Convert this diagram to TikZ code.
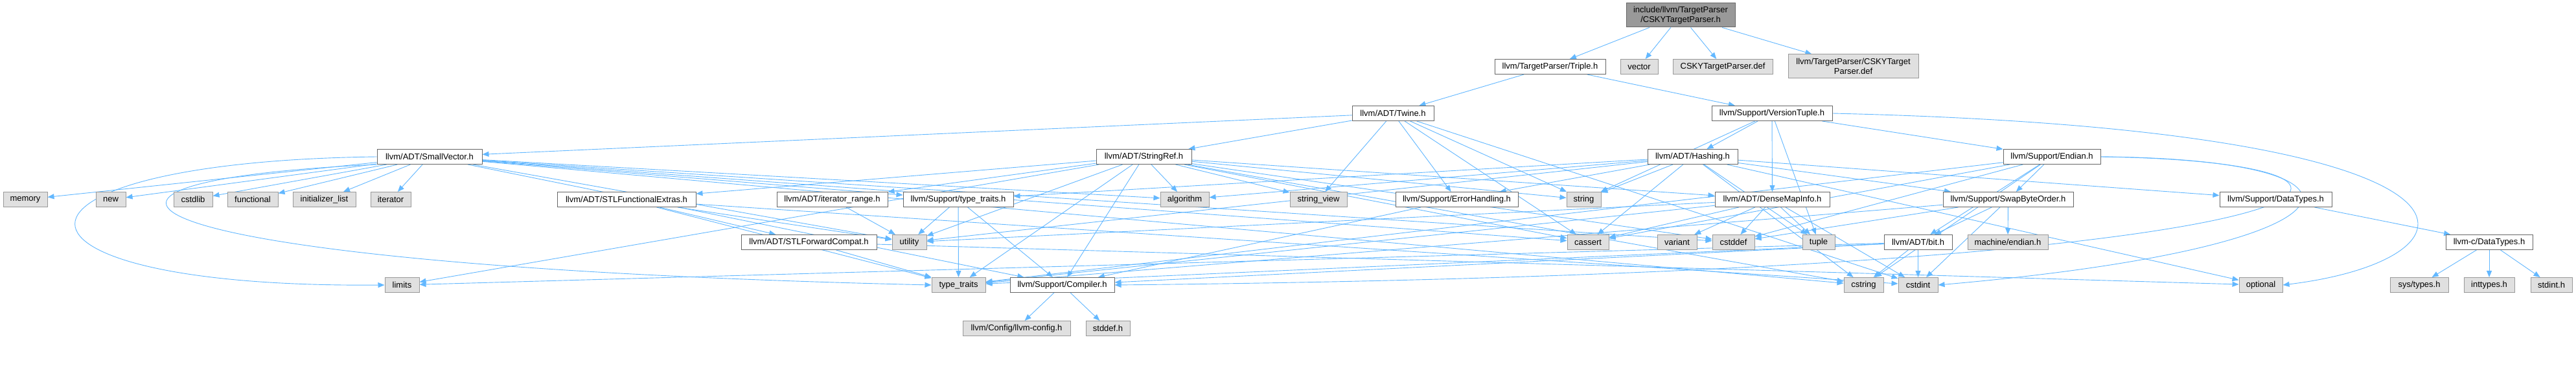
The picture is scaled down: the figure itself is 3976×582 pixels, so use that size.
\documentclass[tikz,border=0pt]{standalone}
\usepackage{fontspec}
\setmainfont{Liberation Sans}
\usetikzlibrary{arrows.meta}
\pgfdeclarelayer{back}
\pgfdeclarelayer{bg}
\pgfsetlayers{back,bg,main}
\definecolor{edgeblue}{HTML}{63B8FF}
\definecolor{docborder}{HTML}{666666}
\definecolor{extfill}{HTML}{E0E0E0}
\definecolor{extborder}{HTML}{999999}
\definecolor{rootfill}{HTML}{999999}
\tikzset{
  base/.style={rectangle, inner sep=0pt, minimum height=11.5pt, font=\fontsize{6.5}{7.3}\selectfont, line width=0.5pt, align=center},
  doc/.style={base, draw=docborder, fill=white},
  ext/.style={base, draw=extborder, fill=extfill},
  rootnode/.style={base, draw=docborder, fill=rootfill, minimum height=18.5pt},
  e/.style={draw=edgeblue, line width=0.45pt, -{Triangle[length=5pt,width=4pt]}},
}
\begin{document}
\begin{tikzpicture}[x=0.5pt,y=-0.5pt]
\begin{pgfonlayer}{back}
\fill[white] (0,0) rectangle (3976,582);
\end{pgfonlayer}
\useasboundingbox (0,0) rectangle (3976,582);
% row 0
\node[rootnode, minimum width=84pt] (root) at (2594,23.5) {include/llvm/TargetParser\\/CSKYTargetParser.h};
% row 1
\node[doc, minimum width=85.5pt] (triple) at (2392.5,103) {llvm/TargetParser/Triple.h};
\node[ext, minimum width=29pt] (vector) at (2530,103) {vector};
\node[ext, minimum width=77pt] (cskydef) at (2659,103) {CSKYTargetParser.def};
\node[ext, minimum width=100.5pt, minimum height=18.5pt] (cskydef2) at (2860.5,102.5) {llvm/TargetParser/CSKYTarget\\Parser.def};
% row 2
\node[doc, minimum width=63pt] (twine) at (2150,175) {llvm/ADT/Twine.h};
\node[doc, minimum width=93pt] (vtuple) at (2735,175) {llvm/Support/VersionTuple.h};
% row 3
\node[doc, minimum width=81pt] (smallvec) at (663,242) {llvm/ADT/SmallVector.h};
\node[doc, minimum width=73.5pt] (stringref) at (1765.5,242) {llvm/ADT/StringRef.h};
\node[doc, minimum width=69.5pt] (hashing) at (2612.5,242) {llvm/ADT/Hashing.h};
\node[doc, minimum width=75pt] (endian) at (3167,242) {llvm/Support/Endian.h};
% row 4
\node[ext, minimum width=34pt] (memory) at (39,308) {memory};
\node[ext, minimum width=23pt] (new) at (171,308) {new};
\node[ext, minimum width=30pt] (cstdlib) at (298,308) {cstdlib};
\node[ext, minimum width=39pt] (functional) at (390,308) {functional};
\node[ext, minimum width=48.5pt] (initlist) at (500.5,308) {initializer\_list};
\node[ext, minimum width=31pt] (iterator) at (603,308) {iterator};
\node[doc, minimum width=107pt] (stlfe) at (967,308) {llvm/ADT/STLFunctionalExtras.h};
\node[doc, minimum width=85.5pt] (itrange) at (1284.5,308) {llvm/ADT/iterator\_range.h};
\node[doc, minimum width=85pt] (typetraitsh) at (1479,308) {llvm/Support/type\_traits.h};
\node[ext, minimum width=37.5pt] (algorithm) at (1828.5,308) {algorithm};
\node[ext, minimum width=44pt] (stringview) at (2035,308) {string\_view};
\node[doc, minimum width=94.5pt] (errh) at (2248.5,308) {llvm/Support/ErrorHandling.h};
\node[ext, minimum width=26.5pt] (string) at (2444.5,308) {string};
\node[doc, minimum width=88.5pt] (densemap) at (2735.5,308) {llvm/ADT/DenseMapInfo.h};
\node[doc, minimum width=100.5pt] (swap) at (3099.5,308) {llvm/Support/SwapByteOrder.h};
\node[doc, minimum width=86.5pt] (datatypes) at (3512.5,308) {llvm/Support/DataTypes.h};
% row 5
\node[doc, minimum width=104.5pt] (stlfc) at (1248.5,374) {llvm/ADT/STLForwardCompat.h};
\node[ext, minimum width=26.5pt] (utility) at (1403.5,374) {utility};
\node[ext, minimum width=32pt] (cassert) at (2451,374) {cassert};
\node[ext, minimum width=30.5pt] (variant) at (2588.5,374) {variant};
\node[ext, minimum width=32.5pt] (cstddef) at (2675.5,374) {cstddef};
\node[ext, minimum width=25pt] (tuple) at (2807,374) {tuple};
\node[doc, minimum width=52.5pt] (bith) at (2960.5,374) {llvm/ADT/bit.h};
\node[ext, minimum width=62pt] (machendian) at (3099,374) {machine/endian.h};
\node[doc, minimum width=67pt] (llvmcdt) at (3842,374) {llvm-c/DataTypes.h};
% row 6
\node[ext, minimum width=26.5pt] (limits) at (620.5,440) {limits};
\node[ext, minimum width=41.5pt] (typetraits) at (1479.5,440) {type\_traits};
\node[doc, minimum width=80.5pt] (compiler) at (1639.5,440) {llvm/Support/Compiler.h};
\node[ext, minimum width=30.5pt] (cstring) at (2876.5,440) {cstring};
\node[ext, minimum width=30.5pt] (cstdint) at (2960.5,440) {cstdint};
\node[ext, minimum width=33.5pt] (optional) at (3489.5,440) {optional};
\node[ext, minimum width=45pt] (systypes) at (3734,440) {sys/types.h};
\node[ext, minimum width=39pt] (inttypes) at (3842,440) {inttypes.h};
\node[ext, minimum width=32pt] (stdinth) at (3938,440) {stdint.h};
% row 7
\node[ext, minimum width=83pt] (llvmconfig) at (1569,507) {llvm/Config/llvm-config.h};
\node[ext, minimum width=34pt] (stddefh) at (1710,507) {stddef.h};
\begin{pgfonlayer}{bg}
\foreach \a/\b in {root/triple, root/vector, root/cskydef, root/cskydef2,
  triple/twine, triple/vtuple,
  twine/smallvec, twine/stringref, twine/errh, twine/cassert, twine/cstdint, twine/string, twine/stringview,
  vtuple/densemap, vtuple/hashing, vtuple/endian, vtuple/string, vtuple/tuple,
  smallvec/compiler, smallvec/typetraitsh, smallvec/algorithm, smallvec/cassert, smallvec/cstddef,
  smallvec/cstdlib, smallvec/cstring, smallvec/functional, smallvec/initlist, smallvec/iterator,
  smallvec/memory, smallvec/new, smallvec/utility,
  stringref/densemap, stringref/stlfe, stringref/itrange, stringref/compiler, stringref/algorithm,
  stringref/cassert, stringref/cstddef, stringref/cstring, stringref/limits, stringref/string,
  stringref/stringview, stringref/typetraits, stringref/utility,
  errh/compiler,
  hashing/datatypes, hashing/errh, hashing/swap, hashing/typetraitsh, hashing/algorithm, hashing/cassert,
  hashing/cstring, hashing/optional, hashing/string, hashing/tuple, hashing/utility,
  densemap/cassert, densemap/cstddef, densemap/cstdint, densemap/tuple, densemap/typetraits,
  densemap/utility, densemap/variant,
  endian/bith, endian/swap, endian/cassert, endian/cstddef, endian/cstring, endian/typetraits,
  swap/bith, swap/cstddef, swap/cstdint, swap/typetraits, swap/machendian,
  bith/compiler, bith/cstdint, bith/cstring, bith/limits, bith/typetraits,
  stlfe/stlfc, stlfe/cstdint, stlfe/typetraits, stlfe/utility,
  stlfc/optional, stlfc/typetraits,
  itrange/utility,
  typetraitsh/compiler, typetraitsh/typetraits, typetraitsh/utility,
  compiler/llvmconfig, compiler/stddefh,
  datatypes/llvmcdt,
  llvmcdt/systypes, llvmcdt/inttypes, llvmcdt/stdinth}
  {\draw[e] (\a) -- (\b);}
% routed curves
\draw[e] (smallvec.west) .. controls (-40,250) and (-40,445) .. (limits.west);
\draw[e] (smallvec.south west) .. controls (0,280) and (150,410) .. (typetraits.west);
\draw[e] (vtuple.east) .. controls (3900,200) and (3850,400) .. (optional.east);
\draw[e] (endian.east) .. controls (3700,245) and (3680,380) .. (cstdint.east);
\draw[e] (endian.east) .. controls (3800,250) and (3700,420) .. (compiler.east);
\end{pgfonlayer}
\end{tikzpicture}
\end{document}
